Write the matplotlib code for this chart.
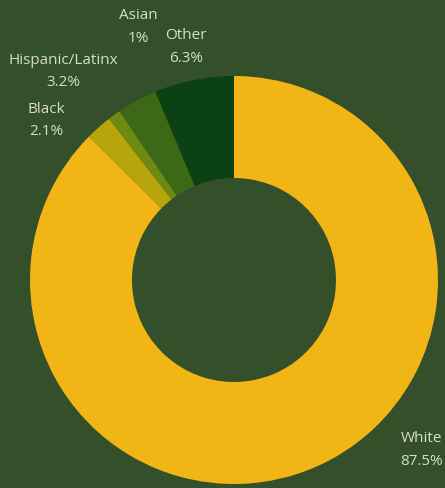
import matplotlib.pyplot as plt

# Share of population by race / ethnicity
groups = ['White', 'Black', 'Asian', 'Hispanic/Latinx', 'Other']
shares = [87.5, 2.1, 1.0, 3.2, 6.3]
share_labels = ['87.5%', '2.1%', '1%', '3.2%', '6.3%']

colors = ['#F2B516', '#B8A50B', '#6E8A13', '#3D6816', '#0C4113']
bg = '#34502A'
text_color = '#D6DDCA'

# where each label sits (data units, pie radius = 1)
label_pos = {
    'White': (0.917, -0.833),
    'Black': (-0.92, 0.78),
    'Asian': (-0.47, 1.24),
    'Hispanic/Latinx': (-0.838, 1.02),
    'Other': (-0.235, 1.142),
}

fig = plt.figure(figsize=(4.45, 4.88), dpi=100, facecolor=bg)
ax = fig.add_axes([0, 0, 1, 1])
ax.set_facecolor(bg)

ax.pie(shares, colors=colors, startangle=90, counterclock=False,
       radius=1.0, wedgeprops=dict(width=0.5, linewidth=0))

for name, lab in zip(groups, share_labels):
    x, y = label_pos[name]
    ax.text(x, y, f'{name}\n{lab}', ha='center', va='center',
            color=text_color, fontsize=11, family='Open Sans',
            linespacing=1.65)

ax.set_xlim(-234 / 204, (445 - 234) / 204)
ax.set_ylim(-208 / 204, 280 / 204)
ax.set_aspect('auto')
ax.axis('off')

fig.savefig('out.png', dpi=100, facecolor=bg)
